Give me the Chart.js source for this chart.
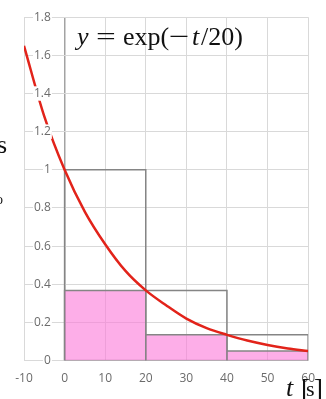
<!DOCTYPE html>
<html>
<head>
<meta charset="utf-8">
<script src="https://cdn.jsdelivr.net/npm/chart.js@4/dist/chart.umd.min.js"></script>
<style>
  html, body { margin: 0; padding: 0; background: #fff; }
  #wrap { width: 326px; height: 399px; position: relative; }
</style>
</head>
<body>
<div id="wrap"><canvas id="c"></canvas></div>
<script>
// y = exp(-t/20)
const tCurve = [-10, -5, 0, 5, 10, 15, 20, 25, 30, 35, 40, 45, 50, 55, 60];
const yCurve = [1.65, 1.28, 1.0, 0.78, 0.61, 0.47, 0.368, 0.29, 0.22, 0.17, 0.135, 0.105, 0.082, 0.064, 0.05];

// rectangles (upper and lower sums)
const edges = [0, 20, 40, 60];
const upper = [1.0, 0.368, 0.135];
const lower = [0.368, 0.135, 0.05];

const xMin = -10, xMax = 60, xStep = 10;
const yMin = 0, yMax = 1.8, yStep = 0.2;

function boxPoints(heights) {
  const pts = [];
  heights.forEach((h, i) => {
    pts.push({x: edges[i], y: 0}, {x: edges[i], y: h}, {x: edges[i + 1], y: h}, {x: edges[i + 1], y: 0});
  });
  return pts;
}

const curve = tCurve.map((t, i) => ({x: t, y: yCurve[i]}));
const base = [{x: edges[0], y: 0}, {x: edges[edges.length - 1], y: 0}];

const tickFont = {family: "'Open Sans', 'Noto Sans', sans-serif", size: 12};
const tickColor = '#6b6b6b';

// math-style labels drawn on the canvas
const notes = {
  id: 'notes',
  afterDraw(chart) {
    const ctx = chart.ctx;
    ctx.save();
    ctx.fillStyle = '#111';
    ctx.textBaseline = 'alphabetic';
    const serif = "'Liberation Serif', serif";
    const put = (txt, x, y, size, italic, fam, sx) => {
      ctx.save();
      ctx.font = (italic ? 'italic ' : '') + size + 'px ' + (fam || serif);
      ctx.translate(x, y);
      ctx.scale(sx || 1, 1);
      ctx.fillText(txt, 0, 0);
      ctx.restore();
    };
    // title
    put('y', 77, 45, 26, true);
    put('=', 96, 45, 26, false, serif, 1.35);
    put('exp(', 123, 45, 26, false);
    put('\u2212', 169, 45, 26, false, serif, 1.4);
    put('t', 192, 45, 26, true);
    put('/20)', 201, 45, 26, false);
    // axis unit
    put('t', 286, 396, 26, true);
    put('[', 301, 398, 27, false);
    put('s', 306, 396, 22, false);
    put(']', 314, 398, 27, false);
    // cut-off text at the left edge
    put('s', -3, 153, 26, false);
    put('o', -4, 204, 14, false);
    ctx.restore();
  }
};

const boxLine = {borderColor: '#858585', borderWidth: 1.5, pointRadius: 0, tension: 0};

new Chart(document.getElementById('c'), {
  type: 'line',
  data: {
    datasets: [
      {
        label: 'exp',
        data: curve,
        borderColor: '#e2231a',
        borderWidth: 2.5,
        pointRadius: 0,
        cubicInterpolationMode: 'monotone',
        fill: false,
        order: 0
      },
      Object.assign({
        label: 'lower',
        data: boxPoints(lower),
        backgroundColor: 'rgba(251,120,217,0.6)',
        fill: 'origin',
        order: 1
      }, boxLine),
      Object.assign({label: 'upper', data: boxPoints(upper), fill: false, order: 2}, boxLine),
      Object.assign({label: 'base', data: base, fill: false, order: 3}, boxLine)
    ]
  },
  options: {
    responsive: true,
    maintainAspectRatio: false,
    animation: false,
    layout: {padding: {left: 24, right: 16, top: 16, bottom: 2}},
    plugins: {
      legend: {display: false},
      tooltip: {enabled: false}
    },
    scales: {
      x: {
        type: 'linear',
        min: xMin, max: xMax,
        ticks: {stepSize: xStep, font: tickFont, color: tickColor, padding: 11},
        grid: {
          color: (c) => c.tick && c.tick.value === 0 ? '#a3a3a3' : '#d9d9d9',
          lineWidth: (c) => c.tick && c.tick.value === 0 ? 1.5 : 1,
          drawTicks: false
        },
        border: {display: false}
      },
      y: {
        type: 'linear',
        min: yMin, max: yMax,
        ticks: {stepSize: yStep, display: false},
        grid: {color: '#d9d9d9', drawTicks: false},
        border: {display: false},
        afterFit: (s) => { s.width = 0; }
      },
      yl: {
        type: 'linear',
        position: 'left',
        min: yMin, max: yMax,
        ticks: {
          z: 1,
          stepSize: yStep,
          mirror: true,
          crossAlign: 'far',
          padding: 10,
          font: tickFont,
          color: tickColor,
          callback: (v) => String(Math.round(v * 10) / 10),
          showLabelBackdrop: true,
          backdropColor: '#fff',
          backdropPadding: {top: 0, bottom: 0, left: 1, right: 1}
        },
        grid: {display: false, drawTicks: false},
        border: {display: false},
        afterFit: (s) => { s.width = 0; }
      }
    }
  },
  plugins: [notes]
});
</script>
</body>
</html>
